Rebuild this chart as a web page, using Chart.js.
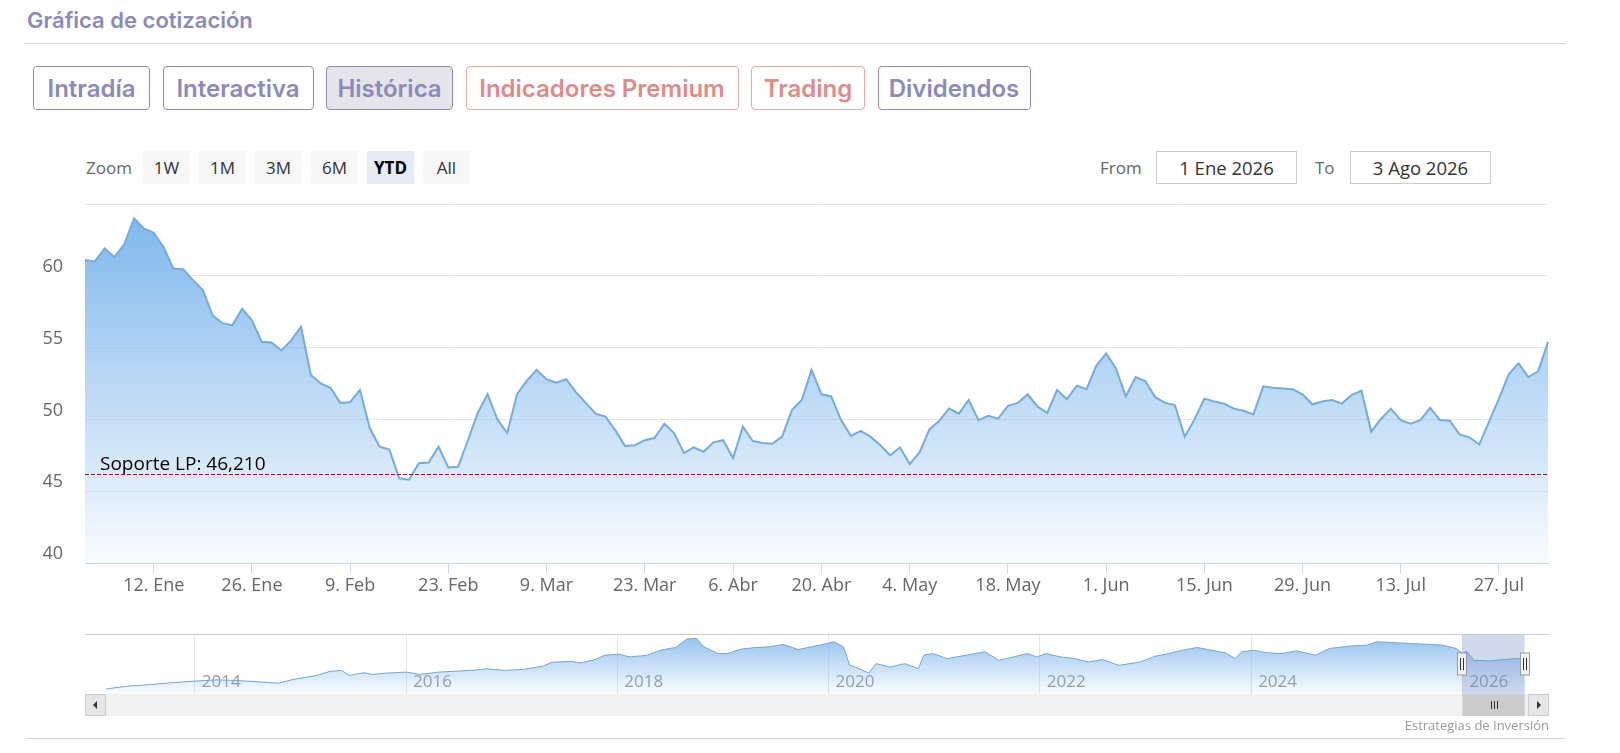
<!DOCTYPE html>
<html lang="es">
<head>
<meta charset="UTF-8">
<title>Gráfica de cotización</title>
<script src="https://cdn.jsdelivr.net/npm/chart.js@4.4.1/dist/chart.umd.min.js"></script>
<style>
  body { margin: 0; width: 1620px; height: 753px; position: relative; overflow: hidden; background: #fff; font-family: "Open Sans", sans-serif; }
  .title { position: absolute; left: 27px; top: 7px; font-family: Inter, sans-serif; font-weight: 600; font-size: 22px; color: #8c89bb; }
  .rule { position: absolute; left: 25px; width: 1540px; height: 1px; background: #d6d6d6; }
  .tabs { position: absolute; left: 33px; top: 66px; display: flex; gap: 12.5px; }
  .tab { box-sizing: border-box; height: 44px; border: 1px solid #8f8cb8; border-radius: 4px; font-family: Inter, sans-serif; font-weight: 600; font-size: 24px; color: #8c89bb; display: flex; align-items: center; justify-content: center; }
  .tab.red { color: #e08a8a; border-color: #e7a9a9; }
  .tab.on { background: #e4e4ea; }
  .zoom { position: absolute; top: 151px; height: 33px; line-height: 33px; font-size: 17px; color: #666; }
  .zbtns { position: absolute; left: 143px; top: 151px; display: flex; gap: 9px; }
  .zb { width: 47px; height: 33px; line-height: 33px; text-align: center; background: #f7f7f7; color: #333; font-size: 17px; }
  .zb.on { background: #e6ebf5; color: #000; font-weight: 700; }
  .date { position: absolute; top: 151px; box-sizing: border-box; width: 141px; height: 33px; line-height: 31px; border: 1px solid #cccccc; text-align: center; font-size: 18.5px; color: #333; }
  #main { position: absolute; left: 0; top: 194px; width: 1620px; height: 410px; }
  #nav { position: absolute; left: 0; top: 628px; width: 1620px; height: 92px; }
  .credit { position: absolute; right: 71px; top: 716px; font-size: 13px; color: #999; }
</style>
</head>
<body>
  <div class="title">Gráfica de cotización</div>
  <div class="rule" style="top:43px"></div>

  <div class="tabs">
    <div class="tab" style="width:117px">Intradía</div>
    <div class="tab" style="width:151px">Interactiva</div>
    <div class="tab on" style="width:127px">Histórica</div>
    <div class="tab red" style="width:273px">Indicadores Premium</div>
    <div class="tab red" style="width:114px">Trading</div>
    <div class="tab" style="width:153px">Dividendos</div>
  </div>

  <div class="zoom" style="left:86px">Zoom</div>
  <div class="zbtns">
    <div class="zb">1W</div><div class="zb">1M</div><div class="zb">3M</div>
    <div class="zb">6M</div><div class="zb on">YTD</div><div class="zb">All</div>
  </div>
  <div class="zoom" style="left:1100px">From</div>
  <div class="date" style="left:1156px">1 Ene 2026</div>
  <div class="zoom" style="left:1315px">To</div>
  <div class="date" style="left:1350px">3 Ago 2026</div>

  <div id="main"><canvas id="priceChart"></canvas></div>
  <div id="nav"><canvas id="navChart"></canvas></div>

  <div class="credit">Estrategias de Inversión</div>
  <div class="rule" style="top:738px"></div>

<script>
// ---- datos de la cotización (cierres diarios, 2026) ----
const firstDay = '2026-01-01';
const lastDay = '2026-08-03';
const holidays = ['2026-04-03', '2026-04-06', '2026-05-01'];

const prices = [
  61.1, 61.0, 61.9, 61.3, 62.2, 64.0, 63.3, 63.0, 62.0, 60.5,
  60.45, 59.7, 59.0, 57.25, 56.7, 56.55, 57.7, 56.9, 55.4, 55.35,
  54.8, 55.5, 56.45, 53.1, 52.5, 52.2, 51.15, 51.2, 52.05, 49.4,
  48.1, 47.9, 45.9, 45.8, 46.95, 47.0, 48.1, 46.65, 46.7, 48.55,
  50.45, 51.75, 50.0, 49.05, 51.75, 52.7, 53.45, 52.8, 52.55, 52.8,
  51.9, 51.15, 50.4, 50.2, 49.25, 48.15, 48.2, 48.55, 48.7, 49.7,
  49.05, 47.65, 48.05, 47.75, 48.4, 48.55, 47.3, 49.5, 48.5, 48.35,
  48.3, 48.8, 50.65, 51.35, 53.45, 51.75, 51.6, 49.95, 48.85, 49.2,
  48.8, 48.2, 47.5, 48.05, 46.9, 47.7, 49.3, 49.9, 50.75, 50.4,
  51.35, 49.95, 50.25, 50.05, 50.95, 51.15, 51.75, 50.9, 50.45, 52.05,
  51.4, 52.35, 52.1, 53.75, 54.6, 53.55, 51.6, 52.95, 52.65, 51.55,
  51.15, 51.0, 48.8, 50.0, 51.45, 51.25, 51.1, 50.75, 50.6, 50.35,
  52.3, 52.2, 52.15, 52.1, 51.75, 51.05, 51.25, 51.35, 51.1, 51.7,
  52.0, 49.15, 50.05, 50.75, 49.95, 49.7, 49.95, 50.8, 49.95, 49.9,
  48.95, 48.75, 48.25, 49.85, 51.45, 53.15, 53.9, 52.95, 53.35, 55.4
];

const tickDates = ['2026-01-12', '2026-01-26', '2026-02-09', '2026-02-23', '2026-03-09',
  '2026-03-23', '2026-04-06', '2026-04-20', '2026-05-04', '2026-05-18', '2026-06-01',
  '2026-06-15', '2026-06-29', '2026-07-13', '2026-07-27'];
const tickLabels = ['12. Ene', '26. Ene', '9. Feb', '23. Feb', '9. Mar', '23. Mar', '6. Abr',
  '20. Abr', '4. May', '18. May', '1. Jun', '15. Jun', '29. Jun', '13. Jul', '27. Jul'];

const yTicks = [40, 45, 50, 55, 60, 65];
const supportLevel = 46.21;
const supportLabel = 'Soporte LP: 46,210';

// ---- navegador (histórico completo) ----
const navX = [
  2013.16, 2013.36, 2013.58, 2013.81, 2013.99,
  2014.21, 2014.39, 2014.61, 2014.79, 2014.93,
  2015.15, 2015.28, 2015.39, 2015.46, 2015.60, 2015.68, 2015.82,
  2016.00, 2016.13, 2016.31, 2016.49, 2016.62, 2016.76, 2016.94,
  2017.11, 2017.29, 2017.38, 2017.56, 2017.65, 2017.79, 2017.88,
  2018.01, 2018.12, 2018.28, 2018.41, 2018.55, 2018.66, 2018.75, 2018.81, 2018.95,
  2019.04, 2019.17, 2019.31, 2019.44, 2019.57, 2019.71, 2019.84, 2019.96,
  2020.05, 2020.14, 2020.20, 2020.27, 2020.38, 2020.45, 2020.58, 2020.72, 2020.85, 2020.90, 2020.99,
  2021.12, 2021.30, 2021.48, 2021.61, 2021.75, 2021.88, 2021.97,
  2022.06, 2022.19, 2022.33, 2022.46, 2022.59, 2022.75, 2022.95,
  2023.09, 2023.22, 2023.35, 2023.49, 2023.62, 2023.76, 2023.85, 2023.91,
  2024.02, 2024.16, 2024.29, 2024.43, 2024.61, 2024.74, 2024.92,
  2025.10, 2025.19, 2025.37, 2025.50, 2025.63, 2025.81, 2025.94,
  2026.00, 2026.04, 2026.11, 2026.25, 2026.38, 2026.52, 2026.59
];
const navY = [
  7.5, 11.5, 14, 17, 19,
  21, 20, 18, 16, 21.5,
  27.5, 33.5, 35, 27.5, 31.5, 29, 31,
  32.5, 29, 32.5, 34, 35, 37.5, 35,
  36.5, 41, 47, 48.5, 46, 51, 57.5,
  59, 55, 57.5, 65, 69, 81.5, 82.5, 71, 60,
  60, 66.5, 69, 70, 73.5, 66, 70, 74,
  77.5, 70, 42.5, 39, 31, 45, 40, 45, 37.5, 57.5, 60,
  52.5, 57.5, 62.5, 50, 55, 60, 55,
  60, 55, 52.5, 47.5, 51, 42.5, 47.5,
  56, 60, 65, 69, 65, 61, 52.5, 62.5,
  65, 61, 60, 64, 57.5, 67.5, 71,
  72.5, 77.5, 76, 75, 74, 72.5, 67.5,
  61, 63, 50, 49, 51, 52.5, 51.5
];
const navYears = [2014, 2016, 2018, 2020, 2022, 2024, 2026];
const navRange = [2012.96, 2026.82];
const selectedRange = [2026.0, 2026.59];

// dias de mercado (sin fines de semana ni festivos)
const days = [];
for (let d = new Date(firstDay + 'T12:00:00Z'); d <= new Date(lastDay + 'T12:00:00Z'); d.setUTCDate(d.getUTCDate() + 1)) {
  const key = d.toISOString().slice(0, 10);
  const wd = d.getUTCDay();
  if (wd !== 0 && wd !== 6 && !holidays.includes(key)) days.push(key);
}
const tickIndex = tickDates.map(t => days.findIndex(d => d >= t));
const tickText = {};
tickIndex.forEach((i, n) => { tickText[i] = tickLabels[n]; });

Chart.defaults.font.family = '"Open Sans", sans-serif';
Chart.defaults.font.size = 18;
Chart.defaults.color = '#666';

function areaFill(context, top, bottom) {
  const area = context.chart.chartArea;
  if (!area) return 'rgba(124,181,236,0.4)';
  const g = context.chart.ctx.createLinearGradient(0, area.top, 0, area.bottom);
  g.addColorStop(0, `rgba(124,181,236,${top})`);
  g.addColorStop(1, `rgba(124,181,236,${bottom})`);
  return g;
}

const supportPlugin = {
  id: 'support',
  afterDatasetsDraw(chart) {
    const {ctx, chartArea, scales} = chart;
    const y = Math.round(scales.y.getPixelForValue(supportLevel)) + 0.5;
    ctx.save();
    ctx.strokeStyle = '#8b1a2e';
    ctx.lineWidth = 1.2;
    ctx.setLineDash([4, 2]);
    ctx.beginPath();
    ctx.moveTo(chartArea.left, y);
    ctx.lineTo(chartArea.right, y);
    ctx.stroke();
    ctx.fillStyle = '#000';
    ctx.font = '19px "Open Sans", sans-serif';
    ctx.textBaseline = 'alphabetic';
    ctx.fillText(supportLabel, chartArea.left + 15, y - 5);
    ctx.restore();
  }
};

new Chart(document.getElementById('priceChart'), {
  type: 'line',
  data: {
    labels: days,
    datasets: [{
      data: prices,
      borderColor: '#74abe2',
      borderWidth: 2,
      pointRadius: 0,
      tension: 0,
      fill: 'start',
      backgroundColor: ctx => areaFill(ctx, 1, 0.05)
    }]
  },
  options: {
    responsive: true,
    maintainAspectRatio: false,
    animation: false,
    layout: { padding: { left: 0, right: 72, top: 10, bottom: 0 } },
    plugins: { legend: { display: false }, tooltip: { enabled: false } },
    scales: {
      x: {
        offset: false,
        border: { color: '#ccd6eb' },
        grid: { drawOnChartArea: false, color: '#ccd6eb', tickLength: 10 },
        ticks: { autoSkip: false, maxRotation: 0, padding: 2, callback: v => tickText[v] },
        afterBuildTicks: s => { s.ticks = tickIndex.map(i => ({ value: i })); },
        afterFit: s => { s.height = 41; }
      },
      y: {
        min: 40, max: 65,
        border: { display: false },
        grid: { color: '#e6e6e6', drawTicks: false },
        ticks: { padding: 22, labelOffset: -9, callback: v => (v === 65 ? '' : v) },
        afterBuildTicks: s => { s.ticks = yTicks.map(v => ({ value: v })); },
        afterFit: s => { s.width = 85; s.paddingTop = 0; s.paddingBottom = 0; }
      }
    }
  },
  plugins: [supportPlugin]
});

const navigatorPlugin = {
  id: 'navigator',
  afterDraw(chart) {
    const {ctx, chartArea, scales} = chart;
    const x1 = scales.x.getPixelForValue(selectedRange[0]);
    const x2 = scales.x.getPixelForValue(selectedRange[1]);
    const top = chartArea.top, bottom = chartArea.bottom;
    ctx.save();
    // zona seleccionada
    ctx.fillStyle = 'rgba(102,133,194,0.3)';
    ctx.fillRect(x1, top, x2 - x1, bottom - top);
    // borde superior
    ctx.strokeStyle = '#cccccc';
    ctx.lineWidth = 1;
    ctx.beginPath();
    ctx.moveTo(chartArea.left, top + 0.5);
    ctx.lineTo(chartArea.right, top + 0.5);
    ctx.stroke();
    // manejadores
    const mid = (top + bottom) / 2;
    [x1, x2].forEach(x => {
      ctx.fillStyle = '#f2f2f2';
      ctx.strokeStyle = '#999999';
      ctx.fillRect(Math.round(x) - 4.5, mid - 11, 9, 22);
      ctx.strokeRect(Math.round(x) - 4.5, mid - 11, 9, 22);
      ctx.strokeStyle = '#333';
      ctx.beginPath();
      ctx.moveTo(Math.round(x) - 1.5, mid - 6); ctx.lineTo(Math.round(x) - 1.5, mid + 6);
      ctx.moveTo(Math.round(x) + 1.5, mid - 6); ctx.lineTo(Math.round(x) + 1.5, mid + 6);
      ctx.stroke();
    });
    // barra de desplazamiento
    const sy = bottom, sh = 22, bw = 21;
    ctx.fillStyle = '#f2f2f2';
    ctx.fillRect(chartArea.left, sy, chartArea.right - chartArea.left, sh);
    ctx.fillStyle = '#cccccc';
    ctx.fillRect(x1, sy, x2 - x1, sh);
    ctx.strokeStyle = '#333';
    const gx = (x1 + x2) / 2;
    ctx.beginPath();
    [-3, 0, 3].forEach(o => { ctx.moveTo(Math.round(gx + o) + 0.5, sy + 7); ctx.lineTo(Math.round(gx + o) + 0.5, sy + 15); });
    ctx.stroke();
    [[chartArea.left, -1], [chartArea.right - bw, 1]].forEach(([bx, dir]) => {
      ctx.fillStyle = '#e6e6e6';
      ctx.strokeStyle = '#cccccc';
      ctx.fillRect(bx, sy, bw, sh);
      ctx.strokeRect(bx + 0.5, sy + 0.5, bw - 1, sh - 1);
      ctx.fillStyle = '#333';
      const cx = bx + bw / 2, cy = sy + sh / 2;
      ctx.beginPath();
      ctx.moveTo(cx + dir * 2.5, cy);
      ctx.lineTo(cx - dir * 1.5, cy - 4);
      ctx.lineTo(cx - dir * 1.5, cy + 4);
      ctx.closePath();
      ctx.fill();
    });
    ctx.restore();
  }
};

new Chart(document.getElementById('navChart'), {
  type: 'line',
  data: {
    datasets: [{
      data: navX.map((x, i) => ({ x, y: navY[i] })),
      borderColor: '#6fa6dc',
      borderWidth: 1,
      pointRadius: 0,
      tension: 0,
      fill: 'start',
      backgroundColor: ctx => areaFill(ctx, 0.85, 0.04)
    }]
  },
  options: {
    responsive: true,
    maintainAspectRatio: false,
    animation: false,
    layout: { padding: { left: 85, right: 71, top: 6, bottom: 0 } },
    plugins: { legend: { display: false }, tooltip: { enabled: false } },
    scales: {
      x: {
        type: 'linear',
        min: navRange[0], max: navRange[1],
        z: 1,
        border: { display: false },
        grid: { color: '#e6e6e6', drawTicks: false },
        ticks: { mirror: true, align: 'start', labelOffset: 7, padding: 2, color: '#999', font: { size: 17 }, callback: v => String(v) },
        afterBuildTicks: s => { s.ticks = navYears.map(v => ({ value: v })); },
        afterFit: s => { s.height = 26; s.paddingLeft = 0; s.paddingRight = 0; }
      },
      y: { display: false, min: 0, max: 89 }
    }
  },
  plugins: [navigatorPlugin]
});
</script>
</body>
</html>
